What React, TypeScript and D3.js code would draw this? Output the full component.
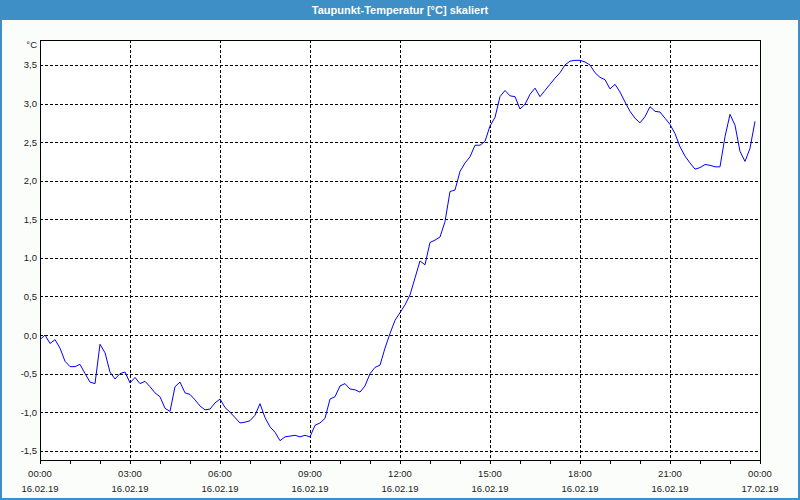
import React from "react";
import * as d3 from "d3";

const TITLE = "Taupunkt-Temperatur [°C] skaliert";
const UNIT = "°C";
// start of series: 16.02.19 00:00, one value every 10 minutes
const START = new Date(2019, 1, 16, 0, 0);
const STEP_MIN = 10;
const VALUES: number[] = [
  -0.06, 0.0, -0.11, -0.06, -0.17, -0.34, -0.41, -0.41, -0.38, -0.5,
  -0.61, -0.63, -0.12, -0.23, -0.48, -0.57, -0.5, -0.48, -0.62, -0.55,
  -0.63, -0.6, -0.67, -0.75, -0.8, -0.95, -0.99, -0.67, -0.61, -0.75,
  -0.77, -0.84, -0.92, -0.97, -0.96, -0.88, -0.83, -0.94, -1.0, -1.07,
  -1.14, -1.13, -1.11, -1.04, -0.89, -1.07, -1.19, -1.26, -1.37, -1.32,
  -1.31, -1.3, -1.32, -1.3, -1.32, -1.17, -1.14, -1.08, -0.83, -0.8,
  -0.66, -0.63, -0.7, -0.71, -0.74, -0.66, -0.5, -0.42, -0.39, -0.17,
  0.02, 0.19, 0.29, 0.39, 0.52, 0.74, 0.96, 0.91, 1.2, 1.23,
  1.27, 1.47, 1.86, 1.88, 2.12, 2.23, 2.31, 2.46, 2.46, 2.51,
  2.71, 2.82, 3.09, 3.17, 3.1, 3.09, 2.93, 2.99, 3.12, 3.2,
  3.09, 3.17, 3.25, 3.33, 3.4, 3.5, 3.55, 3.56, 3.56, 3.54,
  3.5, 3.4, 3.34, 3.31, 3.19, 3.25, 3.15, 3.02, 2.9, 2.81,
  2.75, 2.83, 2.96, 2.9, 2.89, 2.81, 2.73, 2.61, 2.44, 2.32,
  2.23, 2.15, 2.17, 2.21, 2.2, 2.18, 2.18, 2.57, 2.86, 2.72,
  2.38, 2.25, 2.42, 2.77,
];
const Y_TICKS = [-1.5, -1.0, -0.5, 0.0, 0.5, 1.0, 1.5, 2.0, 2.5, 3.0, 3.5];
const X_TICK_HOURS = [0, 3, 6, 9, 12, 15, 18, 21, 24];
const Y_DOMAIN: [number, number] = [-1.62, 3.824];

const W = 800;
const H = 500;
const M = { left: 40, right: 40, top: 40, bottom: 40 };
const FONT = "'Liberation Sans', Arial, sans-serif";

export default function App() {
  const x = d3
    .scaleTime()
    .domain([START, d3.timeHour.offset(START, 24)])
    .range([M.left, W - M.right]);
  const y = d3.scaleLinear().domain(Y_DOMAIN).range([H - M.bottom, M.top]);

  const data = VALUES.map((v, i) => ({
    t: d3.timeMinute.offset(START, i * STEP_MIN),
    v,
  }));
  const line = d3
    .line<{ t: Date; v: number }>()
    .x((d) => x(d.t))
    .y((d) => y(d.v));

  const fmtVal = (v: number) => v.toFixed(1).replace(".", ",");
  const fmtTime = d3.timeFormat("%H:%M");
  const fmtDate = d3.timeFormat("%d.%m.%y");

  const hourTicks = d3.range(0, 25).map((h) => d3.timeHour.offset(START, h));
  const majorTicks = X_TICK_HOURS.map((h) => d3.timeHour.offset(START, h));
  const x0 = M.left;
  const x1 = W - M.right;
  const y0 = H - M.bottom;
  const y1 = M.top;

  return (
    <svg
      width={W}
      height={H}
      style={{ position: "absolute", left: 0, top: 0, display: "block" }}
      fontFamily={FONT}
    >
      <rect x={0} y={0} width={W} height={H} fill="#fbfdfb" />
      <rect x={1} y={1} width={W - 2} height={H - 2} fill="none" stroke="#3d8fc6" strokeWidth={2} />
      <rect x={0} y={0} width={W} height={20} fill="#3d8fc6" />
      <text x={W / 2} y={13.5} textAnchor="middle" fill="#ffffff" fontSize={11} fontWeight="bold">
        {TITLE}
      </text>

      <rect x={x0} y={y1} width={x1 - x0} height={y0 - y1} fill="#ffffff" />

      {/* grid */}
      {Y_TICKS.map((v) => (
        <line
          key={"gy" + v}
          x1={x0}
          x2={x1}
          y1={Math.round(y(v)) + 0.5}
          y2={Math.round(y(v)) + 0.5}
          stroke="#000"
          strokeWidth={1}
          strokeDasharray="3,2"
        />
      ))}
      {majorTicks.slice(1, -1).map((t) => (
        <line
          key={"gx" + t.getTime()}
          x1={Math.round(x(t)) + 0.5}
          x2={Math.round(x(t)) + 0.5}
          y1={y1}
          y2={y0}
          stroke="#000"
          strokeWidth={1}
          strokeDasharray="3,2"
        />
      ))}

      {/* frame */}
      <rect x={x0 + 0.5} y={y1 + 0.5} width={x1 - x0} height={y0 - y1} fill="none" stroke="#000" strokeWidth={1} />

      {/* x ticks */}
      {hourTicks.map((t) => (
        <line
          key={"tx" + t.getTime()}
          x1={Math.round(x(t)) + 0.5}
          x2={Math.round(x(t)) + 0.5}
          y1={y0}
          y2={y0 + 4}
          stroke="#000"
        />
      ))}
      {majorTicks.map((t) => (
        <g key={"lx" + t.getTime()} fontSize={9.5} fill="#1a1a1a" textAnchor="middle">
          <text x={x(t)} y={477}>{fmtTime(t)}</text>
          <text x={x(t)} y={492}>{fmtDate(t)}</text>
        </g>
      ))}

      {/* y labels */}
      {Y_TICKS.map((v) => (
        <text key={"ly" + v} x={37} y={y(v) + 3.5} fontSize={9.5} fill="#1a1a1a" textAnchor="end">
          {fmtVal(v)}
        </text>
      ))}
      <text x={37} y={48} fontSize={9.5} fill="#1a1a1a" textAnchor="end">
        {UNIT}
      </text>

      <path d={line(data) || ""} fill="none" stroke="#0000ff" strokeWidth={1} />
    </svg>
  );
}
